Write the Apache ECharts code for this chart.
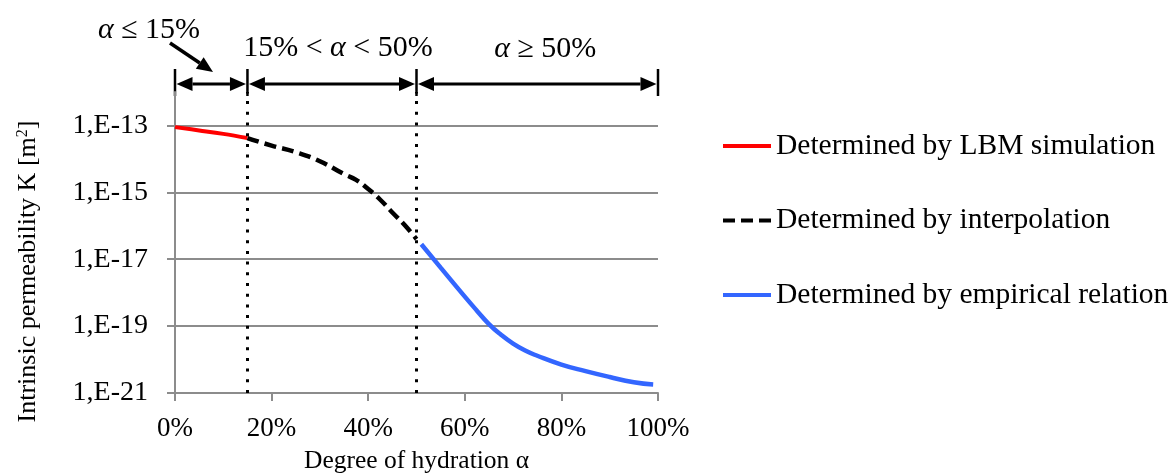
<!DOCTYPE html>
<html>
<head>
<meta charset="utf-8">
<script src="https://cdn.jsdelivr.net/npm/echarts@6/dist/echarts.min.js"></script>
<style>
html,body{margin:0;padding:0;background:#fff;overflow:hidden;}
#chart{width:1168px;height:473px;}
</style>
</head>
<body>
<div id="chart"></div>
<script>
// ---- data ----
const lbmX = [0, 5, 10, 15];
const lbmK = [8.9e-14, 7.1e-14, 5.6e-14, 4.2e-14];
const interpX = [15, 20, 25, 30, 35, 37.5, 40, 42.5, 45, 47.5, 50];
const interpK = [4.2e-14, 2.5e-14, 1.6e-14, 8.5e-15, 3.5e-15, 2.35e-15, 1.26e-15, 6.0e-16, 2.5e-16, 1.07e-16, 4.0e-17];
const empX = [51, 55, 60, 62.5, 65, 67.5, 70, 72.5, 75, 80, 85, 90, 95, 99];
const empK = [2.8e-17, 5.6e-18, 7.6e-19, 2.9e-19, 1.15e-19, 5.5e-20, 3.0e-20, 1.86e-20, 1.3e-20, 7.1e-21, 4.5e-21, 3.0e-21, 2.1e-21, 1.8e-21];
const xTicks = [0, 20, 40, 60, 80, 100];
const yTickExponents = [-21, -19, -17, -15, -13];
const regionBounds = [0, 15, 50, 100];
const regionLabels = ['{i|α} ≤ 15%', '15% < {i|α} < 50%', '{i|α} ≥ 50%'];
const seriesNames = ['Determined by LBM simulation', 'Determined by interpolation', 'Determined by empirical relation'];

const FONT = '"Liberation Serif", "Times New Roman", serif';
const GRAY = '#8c8c8c';
const yMin = -21, yMax = -12;

const toPts = (xs, ks) => xs.map((x, i) => [x, Math.log10(ks[i])]);

const chart = echarts.init(document.getElementById('chart'), null, {renderer: 'canvas', width: 1168, height: 473});
chart.setOption({
  animation: false,
  backgroundColor: '#fff',
  grid: {left: 175, right: 510, top: 92, height: 301, containLabel: false, outerBoundsMode: 'none'},
  xAxis: {
    type: 'value', min: 0, max: 100, interval: 20,
    name: 'Degree of hydration α', nameLocation: 'middle', nameGap: 55,
    nameTextStyle: {fontFamily: FONT, fontSize: 25.5, color: '#000'},
    axisLine: {show: true, lineStyle: {color: GRAY, width: 2}},
    axisTick: {show: true, length: 8, lineStyle: {color: GRAY, width: 2}, customValues: xTicks},
    axisLabel: {customValues: xTicks, formatter: v => v + '%', fontFamily: FONT, fontSize: 27, color: '#000', margin: 22},
    splitLine: {show: false}
  },
  yAxis: {
    type: 'value', min: yMin, max: yMax,
    name: 'Intrinsic permeability K [m{s|2}]', nameLocation: 'middle', nameGap: 134,
    nameTextStyle: {fontFamily: FONT, fontSize: 26, color: '#000', padding: [0, 58, 0, 0],
      rich: {s: {fontFamily: FONT, fontSize: 16, verticalAlign: 'top', padding: [0, 0, 10, 0]}}},
    axisLine: {show: true, lineStyle: {color: GRAY, width: 2}},
    axisTick: {show: true, length: 8, lineStyle: {color: GRAY, width: 2}, customValues: yTickExponents},
    axisLabel: {customValues: yTickExponents, formatter: v => '1,E' + v, fontFamily: FONT, fontSize: 28, color: '#000', margin: 27},
    splitLine: {show: true, lineStyle: {color: GRAY, width: 2}}
  },
  legend: {
    orient: 'vertical', left: 716, top: 126, itemGap: 44.5,
    itemWidth: 48, itemHeight: 14,
    itemStyle: {opacity: 0},
    lineStyle: {width: 4},
    textStyle: {fontFamily: FONT, fontSize: 29.5, color: '#000'},
    data: seriesNames
  },
  series: [
    {name: seriesNames[0], type: 'line', data: toPts(lbmX, lbmK), smooth: 0.4, symbol: 'none',
      lineStyle: {color: '#ff0000', width: 4}, itemStyle: {color: '#ff0000'}, z: 3},
    {name: seriesNames[1], type: 'line', data: toPts(interpX, interpK), smooth: 0.5, symbol: 'none',
      lineStyle: {color: '#000', width: 4.5, type: [12, 6]}, itemStyle: {color: '#000'}, z: 3,
      markLine: {silent: true, symbol: 'none', label: {show: false},
        lineStyle: {color: '#000', width: 3, type: [3, 7.7]},
        data: [{xAxis: regionBounds[1]}, {xAxis: regionBounds[2]}]}},
    {name: seriesNames[2], type: 'line', data: toPts(empX, empK), smooth: 0.5, symbol: 'none',
      lineStyle: {color: '#3366ff', width: 4.5}, itemStyle: {color: '#3366ff'}, z: 3}
  ]
});

// ---- annotations above the plot ----
const px = v => chart.convertToPixel({gridIndex: 0}, [v, yMin])[0];
const yTopPx = chart.convertToPixel({gridIndex: 0}, [0, yMax])[1];
const dimY = yTopPx - 8;
const g = [];
const black = {stroke: '#000', lineWidth: 3};
regionBounds.forEach(b => {
  const x = px(b);
  g.push({type: 'line', shape: {x1: x, y1: dimY - 15, x2: x, y2: dimY + 12}, style: {stroke: '#000', lineWidth: 2.5}});
});
const AL = 16, AW = 7;
for (let i = 0; i < regionBounds.length - 1; i++) {
  const a = px(regionBounds[i]) + 1.5, b = px(regionBounds[i + 1]) - 1.5;
  g.push({type: 'line', shape: {x1: a + AL, y1: dimY, x2: b - AL, y2: dimY}, style: black});
  g.push({type: 'polygon', shape: {points: [[a, dimY], [a + AL, dimY - AW], [a + AL, dimY + AW]]}, style: {fill: '#000'}});
  g.push({type: 'polygon', shape: {points: [[b, dimY], [b - AL, dimY - AW], [b - AL, dimY + AW]]}, style: {fill: '#000'}});
}
const textOffsets = [[-26, -54], [6, -36], [8, -35]];
regionLabels.forEach((t, i) => {
  const cx = i === 0 ? px(regionBounds[0]) : (px(regionBounds[i]) + px(regionBounds[i + 1])) / 2;
  g.push({type: 'text', x: cx + textOffsets[i][0], y: dimY + textOffsets[i][1],
    style: {text: t, fill: '#000', font: '30px ' + FONT, align: 'center', verticalAlign: 'middle',
      rich: {i: {font: 'italic 30px ' + FONT, fill: '#000'}}}});
});
// pointer arrow for the first label
const x0 = px(regionBounds[0]);
const sx = x0 - 5, sy = dimY - 41, tx = x0 + 38, ty = dimY - 12;
const dx = tx - sx, dy = ty - sy, len = Math.hypot(dx, dy), ux = dx / len, uy = dy / len;
const bx = tx - ux * AL, by = ty - uy * AL;
g.push({type: 'line', shape: {x1: sx, y1: sy, x2: bx, y2: by}, style: {stroke: '#000', lineWidth: 3.5}});
g.push({type: 'polygon', shape: {points: [[tx, ty], [bx - uy * AW, by + ux * AW], [bx + uy * AW, by - ux * AW]]}, style: {fill: '#000'}});
chart.setOption({graphic: g});
</script>
</body>
</html>
